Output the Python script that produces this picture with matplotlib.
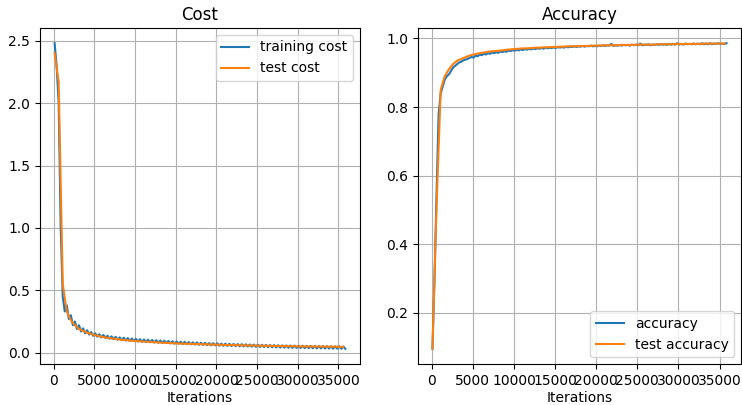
import numpy as np
import matplotlib
matplotlib.use("Agg")
import matplotlib.pyplot as plt
from matplotlib.ticker import MultipleLocator

# iterations (training logged every 250, test every 500)
train_iters = np.arange(100, 36000, 250)
test_iters = np.arange(100, 36000, 500)

train_cost = [
    2.48, 2.30, 2.00, 1.00, 0.45, 0.33, 0.38, 0.27,
    0.30, 0.22, 0.25, 0.19, 0.22, 0.17, 0.195, 0.155,
    0.18, 0.145, 0.165, 0.135, 0.155, 0.128, 0.148, 0.122,
    0.142, 0.117, 0.136, 0.112, 0.131, 0.108, 0.127, 0.104,
    0.123, 0.100, 0.120, 0.097, 0.117, 0.094, 0.114, 0.092,
    0.111, 0.089, 0.108, 0.087, 0.106, 0.085, 0.104, 0.083,
    0.102, 0.081, 0.100, 0.079, 0.098, 0.078, 0.096, 0.076,
    0.094, 0.074, 0.092, 0.072, 0.090, 0.071, 0.088, 0.069,
    0.087, 0.068, 0.085, 0.066, 0.083, 0.065, 0.082, 0.063,
    0.080, 0.062, 0.079, 0.060, 0.077, 0.059, 0.076, 0.058,
    0.075, 0.056, 0.073, 0.055, 0.072, 0.054, 0.071, 0.053,
    0.070, 0.052, 0.069, 0.051, 0.068, 0.050, 0.067, 0.049,
    0.066, 0.048, 0.065, 0.047, 0.064, 0.046, 0.063, 0.045,
    0.062, 0.044, 0.061, 0.043, 0.061, 0.042, 0.060, 0.041,
    0.059, 0.040, 0.058, 0.039, 0.058, 0.038, 0.057, 0.038,
    0.056, 0.037, 0.056, 0.036, 0.055, 0.036, 0.054, 0.035,
    0.054, 0.034, 0.053, 0.034, 0.053, 0.033, 0.052, 0.033,
    0.052, 0.032, 0.051, 0.032, 0.051, 0.031, 0.050, 0.031,
]

test_cost = [
    2.40, 2.17, 0.55, 0.33, 0.26, 0.22, 0.19, 0.175,
    0.16, 0.15, 0.14, 0.132, 0.125, 0.119, 0.114, 0.110,
    0.106, 0.102, 0.099, 0.096, 0.093, 0.091, 0.089, 0.087,
    0.085, 0.083, 0.081, 0.079, 0.078, 0.076, 0.075, 0.073,
    0.072, 0.071, 0.070, 0.069, 0.068, 0.067, 0.066, 0.065,
    0.064, 0.063, 0.062, 0.061, 0.061, 0.060, 0.059, 0.058,
    0.058, 0.057, 0.056, 0.056, 0.055, 0.055, 0.054, 0.053,
    0.053, 0.052, 0.052, 0.051, 0.051, 0.050, 0.050, 0.050,
    0.049, 0.049, 0.049, 0.048, 0.048, 0.048, 0.047, 0.047,
]

train_acc = [
    0.095, 0.30, 0.55, 0.78, 0.84, 0.86, 0.88, 0.89,
    0.895, 0.905, 0.915, 0.92, 0.925, 0.93, 0.932, 0.936,
    0.938, 0.94, 0.943, 0.946, 0.944, 0.95, 0.948, 0.953,
    0.951, 0.955, 0.953, 0.957, 0.955, 0.959, 0.957, 0.96,
    0.958, 0.962, 0.96, 0.963, 0.961, 0.965, 0.963, 0.966,
    0.964, 0.967, 0.965, 0.968, 0.966, 0.969, 0.967, 0.97,
    0.968, 0.971, 0.969, 0.971, 0.97, 0.972, 0.97, 0.973,
    0.971, 0.973, 0.972, 0.974, 0.972, 0.975, 0.973, 0.975,
    0.973, 0.976, 0.974, 0.976, 0.975, 0.977, 0.975, 0.977,
    0.976, 0.978, 0.976, 0.978, 0.977, 0.979, 0.977, 0.978,
    0.977, 0.979, 0.978, 0.98, 0.978, 0.98, 0.979, 0.984,
    0.978, 0.98, 0.979, 0.981, 0.979, 0.981, 0.98, 0.981,
    0.979, 0.982, 0.98, 0.982, 0.98, 0.985, 0.98, 0.982,
    0.981, 0.983, 0.98, 0.982, 0.981, 0.983, 0.981, 0.983,
    0.982, 0.983, 0.981, 0.984, 0.982, 0.984, 0.982, 0.986,
    0.982, 0.984, 0.982, 0.985, 0.983, 0.984, 0.983, 0.985,
    0.983, 0.985, 0.983, 0.986, 0.983, 0.985, 0.983, 0.986,
    0.983, 0.985, 0.984, 0.986, 0.984, 0.985, 0.984, 0.986,
]

test_acc = [
    0.095, 0.51, 0.85, 0.89, 0.91, 0.925, 0.935, 0.94,
    0.945, 0.95, 0.953, 0.956, 0.958, 0.96, 0.962, 0.963,
    0.964, 0.965, 0.967, 0.968, 0.969, 0.970, 0.971, 0.971,
    0.972, 0.973, 0.973, 0.974, 0.974, 0.975, 0.975, 0.976,
    0.976, 0.977, 0.977, 0.977, 0.978, 0.978, 0.978, 0.979,
    0.979, 0.979, 0.980, 0.980, 0.980, 0.980, 0.981, 0.981,
    0.981, 0.981, 0.982, 0.982, 0.982, 0.982, 0.982, 0.983,
    0.983, 0.983, 0.983, 0.983, 0.984, 0.984, 0.984, 0.984,
    0.984, 0.984, 0.985, 0.985, 0.985, 0.985, 0.985, 0.985,
]

fig = plt.figure(figsize=(7.42, 4.05), dpi=100)
ax1 = fig.add_axes([0.054, 0.101, 0.431, 0.830])
ax2 = fig.add_axes([0.563, 0.101, 0.436, 0.830])

ax1.plot(train_iters, train_cost, color="#1f77b4", label="training cost")
ax1.plot(test_iters, test_cost, color="#ff7f0e", label="test cost")
ax1.set_title("Cost")
ax1.set_xlabel("Iterations", labelpad=2)
ax1.grid(True)
ax1.legend(loc="upper right")

ax2.plot(train_iters, train_acc, color="#1f77b4", label="accuracy")
ax2.plot(test_iters, test_acc, color="#ff7f0e", label="test accuracy")
ax2.set_title("Accuracy")
ax2.set_xlabel("Iterations", labelpad=2)
ax2.grid(True)
ax2.legend(loc="lower right")

for ax in (ax1, ax2):
    ax.xaxis.set_major_locator(MultipleLocator(5000))

fig.savefig("out.png", dpi=100)
